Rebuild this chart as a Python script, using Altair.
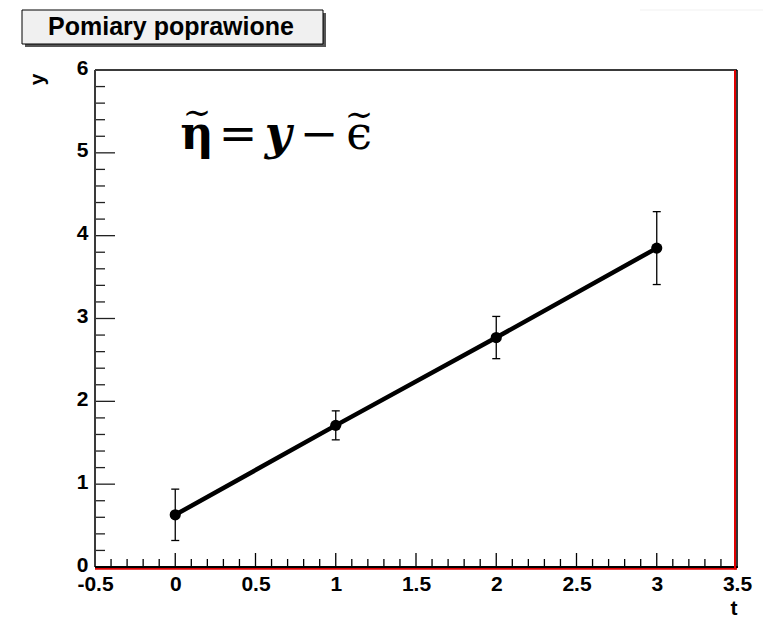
import altair as alt
import pandas as pd

# Corrected measurements: time, value and symmetric uncertainty
t_vals = [0, 1, 2, 3]
y_vals = [0.63, 1.71, 2.77, 3.85]
y_errs = [0.31, 0.175, 0.255, 0.44]

# Axis tick positions
x_labels = [-0.5, 0, 0.5, 1, 1.5, 2, 2.5, 3, 3.5]
x_major = [0, 0.5, 1, 1.5, 2, 2.5, 3]
x_minor = [round(-0.5 + 0.1 * i, 1) for i in range(1, 40) if i % 5 != 0]
y_labels = [0, 1, 2, 3, 4, 5, 6]
y_major = [1, 2, 3, 4, 5]
y_minor = [round(0.2 * i, 1) for i in range(1, 30) if i % 5 != 0]

W, H = 642, 497
FONT = "Liberation Sans"

df = pd.DataFrame({"t": t_vals, "y": y_vals, "err": y_errs})
df["lo"] = df["y"] - df["err"]
df["hi"] = df["y"] + df["err"]

xscale = alt.Scale(domain=[-0.5, 3.5], nice=False, zero=False)
yscale = alt.Scale(domain=[0, 6], nice=False, zero=False)

x_axis = alt.Axis(
    values=x_labels, labelExpr="'' + datum.value", title="t",
    labelFont=FONT, labelFontSize=21, labelFontWeight="bold", labelColor="#000",
    labelPadding=6, labelFlush=False, labelOverlap=False,
    ticks=False, domain=False, grid=False,
    titleFont=FONT, titleFontSize=21, titleFontWeight="bold", titleColor="#000",
    titleX=W, titleY=47, titleAlign="right", titleBaseline="alphabetic",
)
y_axis = alt.Axis(
    values=y_labels, title="y",
    labelFont=FONT, labelFontSize=21, labelFontWeight="bold", labelColor="#000",
    labelPadding=7, labelOffset=-2, labelFlush=False, labelOverlap=False,
    ticks=False, domain=False, grid=False,
    titleFont=FONT, titleFontSize=21, titleFontWeight="bold", titleColor="#000",
    titleAngle=270, titleX=-52, titleY=3, titleAlign="right", titleBaseline="alphabetic",
)


def X(field):
    return alt.X(field, scale=xscale, axis=x_axis)


def Y(field):
    return alt.Y(field, scale=yscale, axis=y_axis)


base = alt.Chart(df)

line = base.mark_line(color="black", strokeWidth=4.5).encode(x=X("t:Q"), y=Y("y:Q"))
err_bar = base.mark_rule(color="black", strokeWidth=1.3).encode(
    x=X("t:Q"), y=Y("lo:Q"), y2="hi:Q"
)
cap_hi = base.mark_rule(color="black", strokeWidth=1.3, xOffset=-4, x2Offset=4).encode(
    x=X("t:Q"), x2="t:Q", y=Y("hi:Q")
)
cap_lo = base.mark_rule(color="black", strokeWidth=1.3, xOffset=-4, x2Offset=4).encode(
    x=X("t:Q"), x2="t:Q", y=Y("lo:Q")
)
points = base.mark_circle(color="black", opacity=1, size=125).encode(x=X("t:Q"), y=Y("y:Q"))


def x_ticks(vals, length):
    return alt.Chart(pd.DataFrame({"t": vals})).mark_rule(
        color="black", strokeWidth=1.3
    ).encode(x=X("t:Q"), y=alt.value(H), y2=alt.value(H - length))


def y_ticks(vals, length):
    return alt.Chart(pd.DataFrame({"y": vals})).mark_rule(
        color="#222", strokeWidth=1.3
    ).encode(y=Y("y:Q"), x=alt.value(0), x2=alt.value(length))


one = alt.Data(values=[{}])


def hline(y, x1, x2, color, width):
    return alt.Chart(one).mark_rule(color=color, strokeWidth=width).encode(
        x=alt.value(x1), x2=alt.value(x2), y=alt.value(y)
    )


def vline(x, y1, y2, color, width):
    return alt.Chart(one).mark_rule(color=color, strokeWidth=width).encode(
        x=alt.value(x), y=alt.value(y1), y2=alt.value(y2)
    )


frame = [
    hline(0, 0, W, "#3a3a3a", 2),
    vline(0, 0, H, "#3a3a3a", 2),
    hline(H + 1.8, 0, W, "#e00000", 2),
    hline(H, 0, W + 1, "#000000", 2),
    vline(W - 2, 0, H + 2.5, "#e00000", 2),
    vline(W, 0, H + 1, "#000000", 1.6),
    hline(-60, 545, 668, "#f2f2f2", 1.2),
]

# Title box with drop shadow
title_shadow = alt.Chart(one).mark_rect(fill="#555555").encode(
    x=alt.value(-70), x2=alt.value(231), y=alt.value(-57), y2=alt.value(-23)
)
title_box = alt.Chart(one).mark_rect(fill="#f0f0f0", stroke="#000", strokeWidth=1).encode(
    x=alt.value(-73), x2=alt.value(228), y=alt.value(-60), y2=alt.value(-26)
)
title_text = alt.Chart(one).mark_text(
    text="Pomiary poprawione", font=FONT, fontSize=25, fontWeight="bold",
    align="center", baseline="alphabetic", color="#000",
).encode(x=alt.value(76), y=alt.value(-35))


# Formula  η̃ = y − ϵ̃
def glyph(txt, x, y, size=46, weight="normal", style="normal"):
    return alt.Chart(one).mark_text(
        text=txt, font="DejaVu Serif", fontSize=size, fontWeight=weight,
        fontStyle=style, align="center", baseline="alphabetic", color="#000",
    ).encode(x=alt.value(x), y=alt.value(y))


formula = [
    glyph("η", 102, 79, weight="bold"),
    glyph("∼", 102, 54, size=34),
    glyph("=", 143, 79),
    glyph("y", 183, 79, weight="bold", style="italic"),
    glyph("−", 224, 79),
    glyph("ϵ", 264, 79),
    glyph("∼", 264, 56, size=34),
]

chart = alt.layer(
    line, err_bar, cap_hi, cap_lo, points,
    x_ticks(x_major, 14), x_ticks(x_minor, 8),
    y_ticks(y_major, 20), y_ticks(y_minor, 10),
    *frame, title_shadow, title_box, title_text, *formula,
).properties(
    width=W, height=H,
    autosize=alt.AutoSizeParams(type="none"),
    padding={"left": 95, "top": 70, "right": 26, "bottom": 53},
    background="white",
).configure_view(strokeWidth=0)

chart.save("out.html", embed_options={"renderer": "svg", "actions": False})
